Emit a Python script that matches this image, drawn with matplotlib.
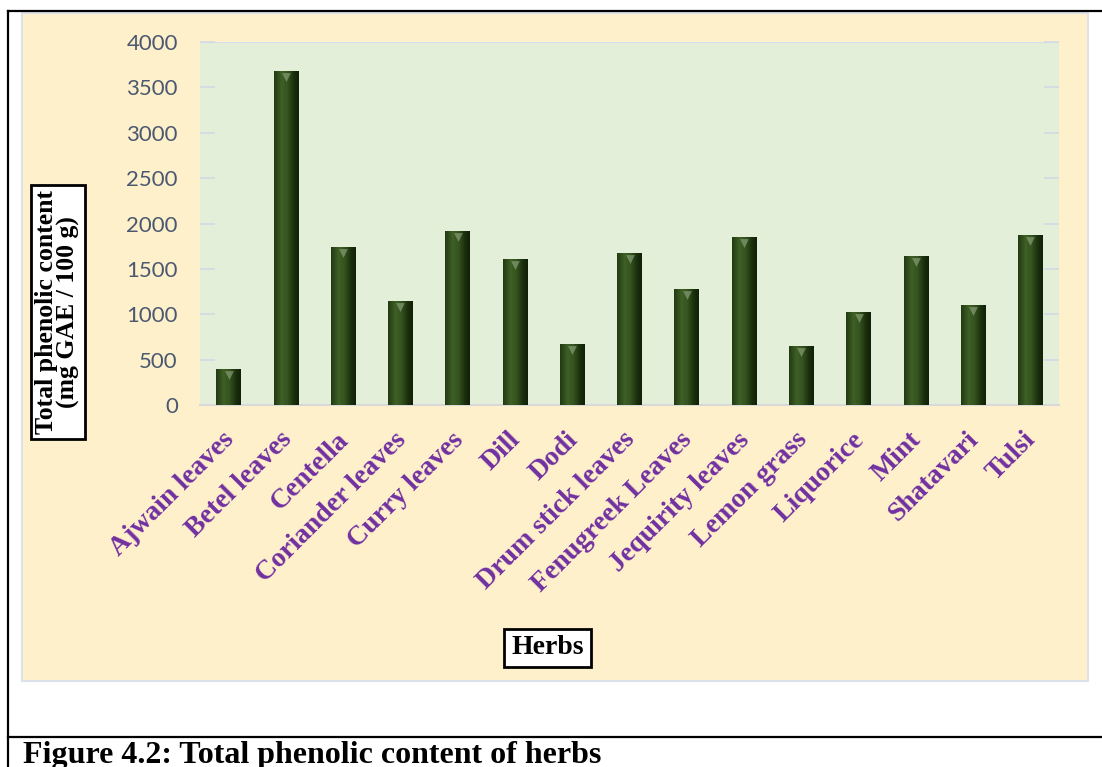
import numpy as np
import matplotlib
matplotlib.use('Agg')
import matplotlib.pyplot as plt
from matplotlib.patches import Rectangle
from matplotlib.lines import Line2D
from matplotlib.colors import LinearSegmentedColormap
from matplotlib.transforms import offset_copy, ScaledTranslation

# =============================================================================
# Data
# =============================================================================
herbs = ['Ajwain leaves', 'Betel leaves', 'Centella', 'Coriander leaves',
         'Curry leaves', 'Dill', 'Dodi', 'Drum stick leaves',
         'Fenugreek Leaves', 'Jequirity leaves', 'Lemon grass', 'Liquorice',
         'Mint', 'Shatavari', 'Tulsi']
tpc = [395, 3680, 1740, 1145, 1915, 1610, 670, 1675,
       1278, 1852, 652, 1027, 1642, 1102, 1873]
yticks = [0, 500, 1000, 1500, 2000, 2500, 3000, 3500, 4000]

W, H = 1102, 767
fig = plt.figure(figsize=(W/100, H/100), dpi=100)
fig.patch.set_facecolor('white')

def fx(px):
    return px / W

def fy(py):
    return 1 - py / H

# page lines around the figure
for (x0, y0, x1, y1) in [(8, 11, W, 11), (8, 11, 8, H), (8, 737, W, 737)]:
    fig.add_artist(Line2D([fx(x0), fx(x1)], [fy(y0), fy(y1)], color='black', lw=1.6))

# chart area (cream)
fig.add_artist(Rectangle((fx(22), fy(681)), fx(1088) - fx(22), fy(13) - fy(681),
                         transform=fig.transFigure, facecolor='#fff0cc',
                         edgecolor='#dde2ea', lw=1.5, zorder=0))

# =============================================================================
# Plot area
# =============================================================================
ax = fig.add_axes([fx(200), fy(405), fx(1059) - fx(200), fy(42) - fy(405)])
ax.set_facecolor('#e3efd9')
x = np.arange(len(herbs))
bars = ax.bar(x, tpc, width=0.43, color='#2f4c1b', zorder=3)

# cylinder-like shading on each bar
shade = LinearSegmentedColormap.from_list('shade', [(0, '#223a12'), (0.3, '#3f6026'),
                                                    (0.55, '#34531e'), (0.8, '#1b300d'),
                                                    (1, '#112008')])
grad = np.linspace(0, 1, 64).reshape(1, -1)
for b in bars:
    im = ax.imshow(grad, cmap=shade, aspect='auto', zorder=4,
                   extent=[b.get_x(), b.get_x() + b.get_width(), 0, b.get_height()])
    im.set_clip_path(b)

# small bevel mark at the top of each bar
ax.scatter(x, tpc, marker='v', s=40, color='#95a985', alpha=0.6, zorder=5, lw=0,
           transform=offset_copy(ax.transData, fig=fig, y=-6, units='dots'))

ax.set_xlim(-0.5, len(herbs) - 0.5)
ax.set_ylim(0, 4000)
ax.set_yticks(yticks)
ax.set_yticklabels([str(v) for v in yticks], fontsize=16, family='Lato', color='#4a5870')
ax.tick_params(axis='y', direction='in', length=11, width=1.2, color='#d3dae6',
               right=True, pad=16)
ax.axhline(4000, color='#d8dee8', lw=1.5, zorder=1)
for s in ['left', 'right', 'top']:
    ax.spines[s].set_visible(False)
ax.spines['bottom'].set_color('#d9d9d9')
ax.spines['bottom'].set_linewidth(1.5)

ax.set_xticks(x)
ax.set_xticklabels(herbs, rotation=45, ha='right', rotation_mode='anchor',
                   fontsize=20, family='Liberation Serif', fontweight='bold',
                   color='#7030a0')
ax.tick_params(axis='x', length=0, pad=16)
# nudge the slanted labels a little to the left
shift = ScaledTranslation(-7/100, 0, fig.dpi_scale_trans)
for lab in ax.get_xticklabels():
    lab.set_transform(lab.get_transform() + shift)

# axis titles in boxes
fig.text(fx(57.5), fy(312), 'Total phenolic content\n(mg GAE / 100 g)', rotation=90,
         ha='center', va='center', family='Liberation Serif', fontweight='bold',
         fontsize=18.5, linespacing=0.88,
         bbox=dict(boxstyle='square,pad=0.2', fc='white', ec='black', lw=2))
fig.text(fx(547.5), fy(648), 'Herbs', ha='center', va='center',
         family='Liberation Serif', fontweight='bold', fontsize=20,
         bbox=dict(boxstyle='square,pad=0.25', fc='white', ec='black', lw=2))

# caption
fig.text(fx(23), fy(741), 'Figure 4.2: Total phenolic content of herbs', ha='left', va='top',
         family='Liberation Serif', fontweight='bold', fontsize=23)

fig.savefig('out.png', dpi=100)
